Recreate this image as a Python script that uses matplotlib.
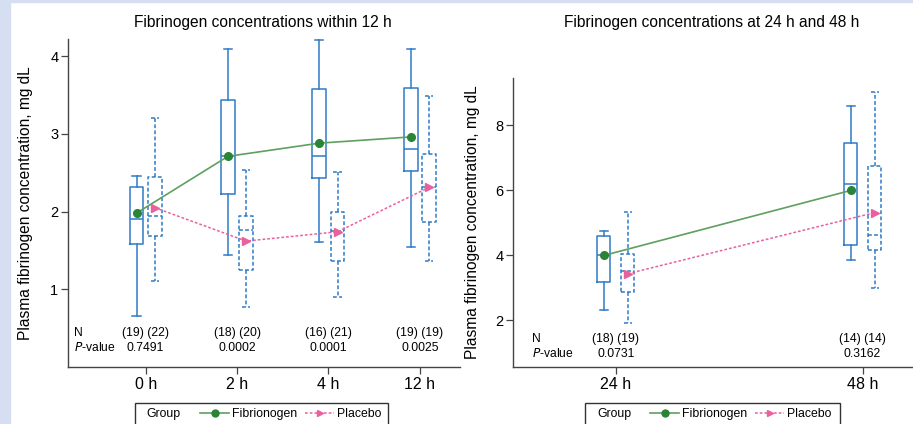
import matplotlib
matplotlib.use("Agg")
import matplotlib.pyplot as plt
from matplotlib.patches import Rectangle
from matplotlib.lines import Line2D
import numpy as np

plt.rcParams['font.family'] = ['Liberation Sans', 'DejaVu Sans']

# ---- data ----
times_12 = ['0 h', '2 h', '4 h', '12 h']
fib_12_lo = [0.66, 1.44, 1.61, 1.54]
fib_12_q1 = [1.58, 2.22, 2.43, 2.52]
fib_12_med = [1.90, 2.72, 2.72, 2.80]
fib_12_q3 = [2.31, 3.44, 3.58, 3.59]
fib_12_hi = [2.46, 4.09, 4.21, 4.09]
fib_12_mean = [1.98, 2.71, 2.88, 2.96]

pla_12_lo = [1.11, 0.77, 0.90, 1.37]
pla_12_q1 = [1.69, 1.25, 1.36, 1.86]
pla_12_med = [1.94, 1.76, 1.75, 2.31]
pla_12_q3 = [2.44, 1.94, 2.00, 2.74]
pla_12_hi = [3.21, 2.54, 2.51, 3.49]
pla_12_mean = [2.05, 1.62, 1.74, 2.31]

n_12 = ['(19) (22)', '(18) (20)', '(16) (21)', '(19) (19)']
p_12 = ['0.7491', '0.0002', '0.0001', '0.0025']

times_48 = ['24 h', '48 h']
fib_48_lo = [2.31, 3.86]
fib_48_q1 = [3.16, 4.30]
fib_48_med = [3.99, 6.20]
fib_48_q3 = [4.58, 7.46]
fib_48_hi = [4.75, 8.60]
fib_48_mean = [3.99, 5.99]

pla_48_lo = [1.91, 2.99]
pla_48_q1 = [2.87, 4.15]
pla_48_med = [3.52, 4.61]
pla_48_q3 = [4.04, 6.73]
pla_48_hi = [5.32, 9.01]
pla_48_mean = [3.43, 5.31]

n_48 = ['(18) (19)', '(14) (14)']
p_48 = ['0.0731', '0.3162']

BLUE = '#2f7bc6'
GREEN_LINE = '#5f9f5f'
GREEN_DOT = '#2a8436'
PINK = '#e8619f'
SPINE = '#444444'
BG = '#d6def2'

W, H = 913, 424


def stats(lo, q1, med, q3, hi):
    return [dict(whislo=a, q1=b, med=c, q3=d, whishi=e, fliers=[])
            for a, b, c, d, e in zip(lo, q1, med, q3, hi)]


def draw_boxes(ax, st, pos, width, ls):
    props = dict(color=BLUE, linewidth=1.1, linestyle=ls)
    ax.bxp(st, positions=pos, widths=width, capwidths=width * 0.6,
           showfliers=False, manage_ticks=False,
           boxprops=props, whiskerprops=props, capprops=props, medianprops=props)


def axes_at(x0, y0, x1, y1):
    # pixel box -> figure fraction
    return fig.add_axes([x0 / W, 1 - y1 / H, (x1 - x0) / W, (y1 - y0) / H])


def panel(ax, labels, fl, pl, fmean, pmean, n_txt, p_txt, off, width, xlim, ylim, yticks,
          nx, ny, py):
    x = np.arange(len(labels))
    draw_boxes(ax, fl, x - off, width, '-')
    draw_boxes(ax, pl, x + off, width, (0, (2.5, 1.5)))
    ax.plot(x - off, fmean, color=GREEN_LINE, lw=1.2, zorder=4)
    ax.plot(x - off, fmean, 'o', color=GREEN_DOT, ms=5.5, zorder=5)
    ax.plot(x + off, pmean, color=PINK, lw=1.1, ls=(0, (1.8, 1.3)), zorder=4)
    ax.plot(x + off, pmean, '>', color=PINK, ms=5.5, zorder=5)

    ax.set_xlim(*xlim)
    ax.set_ylim(*ylim)
    ax.set_xticks(x)
    ax.set_xticklabels(labels, fontsize=11.5)
    ax.set_yticks(yticks)
    ax.set_yticklabels([str(t) for t in yticks], fontsize=10.5)
    for s in ['top', 'right']:
        ax.spines[s].set_visible(False)
    for s in ['left', 'bottom']:
        ax.spines[s].set_color(SPINE)
        ax.spines[s].set_linewidth(1.0)
    ax.tick_params(length=5, width=0.9, color=SPINE, pad=2)
    ax.set_ylabel('Plasma fibrinogen concentration, mg dL', fontsize=11.2)

    tr = ax.get_xaxis_transform()
    ax.text(nx, ny, 'N', transform=tr, fontsize=8.7, ha='left', va='center')
    ax.text(nx, py, '$\\it{P}$-value', transform=tr, fontsize=8.7, ha='left', va='center')
    for xi, nt, pt in zip(x, n_txt, p_txt):
        ax.text(xi, ny, nt, transform=tr, fontsize=8.7, ha='center', va='center')
        ax.text(xi, py, pt, transform=tr, fontsize=8.7, ha='center', va='center')


def group_legend(box_x0, box_x1, group_x, entries_x):
    fig.patches.append(Rectangle((box_x0 / W, -0.02), (box_x1 - box_x0) / W,
                                 0.02 + (424 - 403) / H, transform=fig.transFigure,
                                 fill=False, edgecolor='#333333', lw=1.0))
    fig.text(group_x / W, 1 - 414 / H, 'Group', fontsize=8.8, va='center')
    handles = [Line2D([], [], color=GREEN_LINE, lw=1.2, marker='o', mfc=GREEN_DOT,
                      mec=GREEN_DOT, ms=5),
               Line2D([], [], color=PINK, lw=1.1, ls=(0, (1.8, 1.3)), marker='>', ms=5)]
    fig.legend(handles, ['Fibrionogen', 'Placebo'], loc='center left',
               bbox_to_anchor=(entries_x / W, 1 - 414 / H), ncol=2, frameon=False,
               fontsize=8.8, handlelength=2.4, handletextpad=0.25, columnspacing=0.6,
               borderpad=0, borderaxespad=0)


fig = plt.figure(figsize=(W / 100, H / 100), dpi=100)
fig.patches.append(Rectangle((0, 0), 10 / W, 1, transform=fig.transFigure,
                             color=BG, zorder=-1))
fig.patches.append(Rectangle((0, 1 - 2 / H), 1, 2 / H, transform=fig.transFigure,
                             color=BG, zorder=-1))

ax1 = axes_at(68, 39, 460, 367)
panel(ax1, times_12,
      stats(fib_12_lo, fib_12_q1, fib_12_med, fib_12_q3, fib_12_hi),
      stats(pla_12_lo, pla_12_q1, pla_12_med, pla_12_q3, pla_12_hi),
      fib_12_mean, pla_12_mean, n_12, p_12,
      off=0.1, width=0.15, xlim=(-0.85, 3.44), ylim=(0, 4.22), yticks=[1, 2, 3, 4],
      nx=-0.78, ny=0.104, py=0.058)
ax1.yaxis.set_label_coords(-0.089, 0.5)

ax2 = axes_at(513, 78, 912, 367)
panel(ax2, times_48,
      stats(fib_48_lo, fib_48_q1, fib_48_med, fib_48_q3, fib_48_hi),
      stats(pla_48_lo, pla_48_q1, pla_48_med, pla_48_q3, pla_48_hi),
      fib_48_mean, pla_48_mean, n_48, p_48,
      off=0.049, width=0.054, xlim=(-0.416, 1.2), ylim=(0.56, 9.45), yticks=[2, 4, 6, 8],
      nx=-0.339, ny=0.096, py=0.046)
ax2.yaxis.set_label_coords(-0.083, 0.5)

fig.text(263 / W, 1 - 23 / H, 'Fibrinogen concentrations within 12 h', fontsize=11.2,
         ha='center', va='center')
fig.text(712 / W, 1 - 23 / H, 'Fibrinogen concentrations at 24 h and 48 h', fontsize=11.2,
         ha='center', va='center')

group_legend(135, 388, 146, 200)
group_legend(585, 840, 597, 650)

fig.savefig('out.png', dpi=100)
